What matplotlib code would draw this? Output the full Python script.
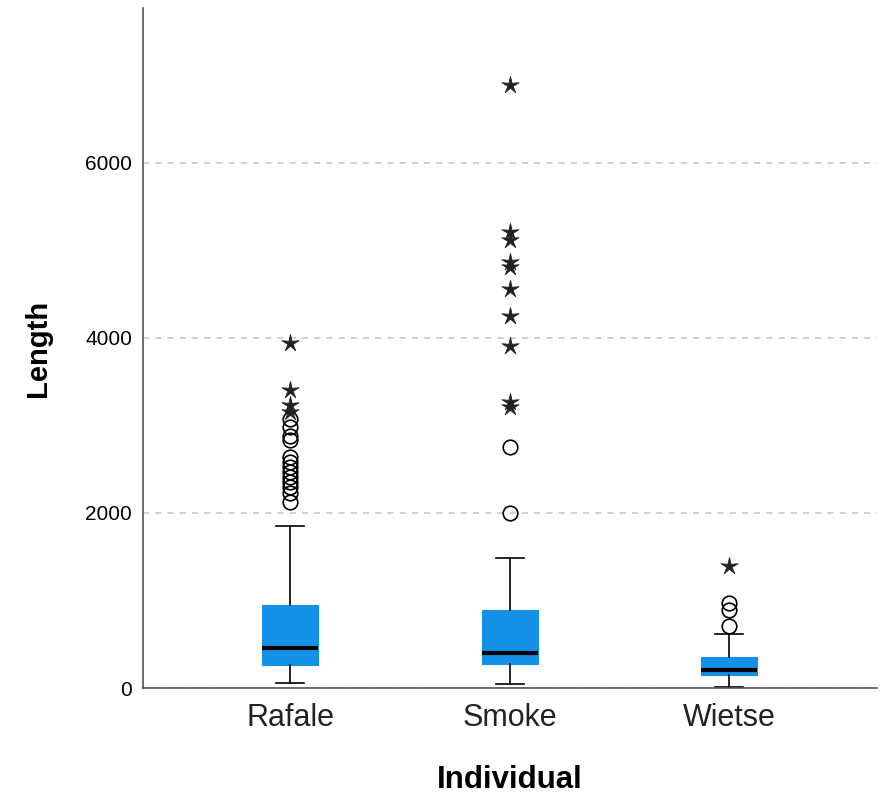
import numpy as np
import matplotlib.pyplot as plt
from matplotlib.path import Path

plt.rcParams['font.family'] = ['Liberation Sans', 'DejaVu Sans']

# Werte
individuals = ['Rafale', 'Smoke', 'Wietse']
q1 = [263, 280, 149]
median = [457, 400, 206]
q3 = [949, 897, 351]
whisker_low = [60, 50, 15]
whisker_high = [1855, 1486, 614]

# Ausreisser (Kreise) und Extremwerte (Sterne)
outliers = [
    [2130, 2225, 2300, 2358, 2415, 2472, 2530, 2587, 2644, 2835, 2880, 2987, 3071],
    [2000, 2758],
    [708, 891, 968],
]
extremes = [
    [3158, 3235, 3406, 3940],
    [3215, 3272, 3909, 4252, 4556, 4815, 4873, 5120, 5216, 6893],
    [1394],
]

box_color = '#1490e6'

# duenner Stern wie in SPSS
ang = np.pi / 2 + np.arange(10) * np.pi / 5
rad = np.where(np.arange(10) % 2 == 0, 1.0, 0.3)
star_verts = np.column_stack([rad * np.cos(ang), rad * np.sin(ang)])
star = Path(np.vstack([star_verts, star_verts[:1]]), closed=True)

fig = plt.figure(figsize=(8.8, 7.98), dpi=100)
ax = fig.add_axes([0.1625, 0.1378, 0.8341, 0.8522])

stats = []
for i, name in enumerate(individuals):
    stats.append({
        'label': name, 'med': median[i], 'q1': q1[i], 'q3': q3[i],
        'whislo': whisker_low[i], 'whishi': whisker_high[i], 'fliers': [],
    })

pos = np.arange(1, len(individuals) + 1)
ax.bxp(stats, positions=pos, widths=0.255, patch_artist=True, showfliers=False,
       boxprops=dict(facecolor=box_color, edgecolor=box_color, linewidth=0.8),
       medianprops=dict(color='black', linewidth=3, solid_capstyle='butt'),
       whiskerprops=dict(color='black', linewidth=1.2),
       capprops=dict(color='black', linewidth=1.2), capwidths=0.128)

for i in range(len(individuals)):
    ax.plot([pos[i]] * len(outliers[i]), outliers[i], 'o', mfc='none', mec='black',
            ms=10.5, mew=1.2, zorder=4)
    ax.plot([pos[i]] * len(extremes[i]), extremes[i], marker=star, ls='none',
            mfc='#222222', mec='#222222', ms=13, mew=0.6, zorder=4)

ax.set_xlim(0.33, 3.674)
ax.set_ylim(0, 7770)
ax.set_yticks([0, 2000, 4000, 6000])
ax.set_xticks(pos)
ax.set_xticklabels(individuals)
ax.yaxis.grid(True, linestyle=(0, (4, 4)), color='#c4c4c4', linewidth=1.1)
ax.set_axisbelow(True)

for s in ['top', 'right']:
    ax.spines[s].set_visible(False)
for s in ['left', 'bottom']:
    ax.spines[s].set_color('#555555')
    ax.spines[s].set_linewidth(1.2)

ax.tick_params(axis='both', length=0)
ax.tick_params(axis='y', labelsize=15, pad=8)
ax.tick_params(axis='x', labelsize=22, pad=11, labelcolor='#222222')

ax.set_ylabel('Length', fontsize=21, fontweight='bold', labelpad=24)
ax.set_xlabel('Individual', fontsize=22.5, fontweight='bold', labelpad=23)

fig.savefig('out.png', dpi=100)
